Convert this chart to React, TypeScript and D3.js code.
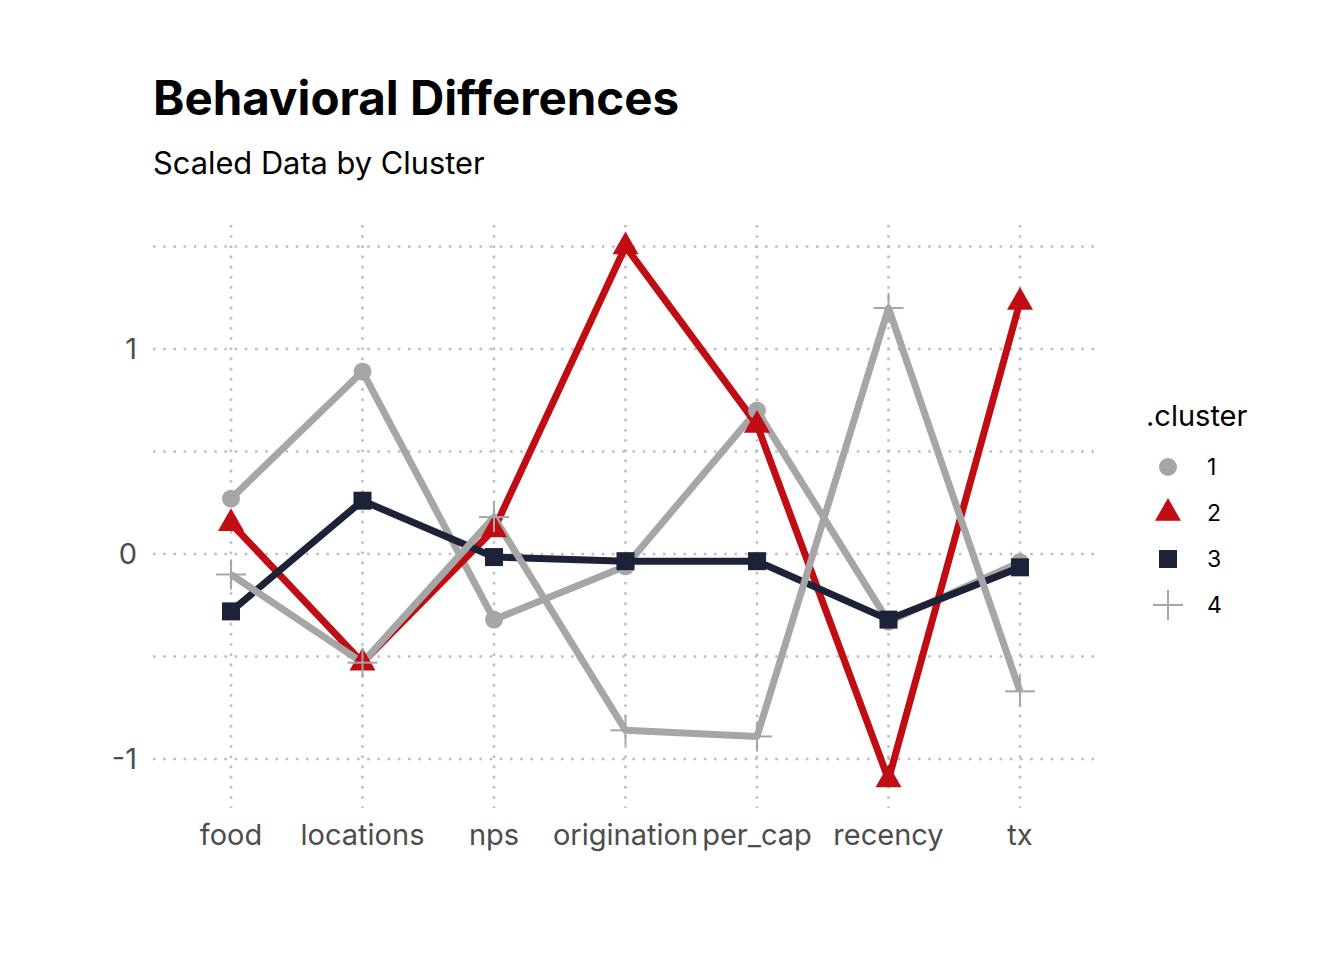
import React from "react";
import * as d3 from "d3";

const categories = ["food", "locations", "nps", "origination", "per_cap", "recency", "tx"];
const clusters = ["1", "2", "3", "4"];
const cluster1 = [0.27, 0.89, -0.32, -0.06, 0.7, -0.33, -0.04];
const cluster2 = [0.15, -0.53, 0.12, 1.5, 0.63, -1.1, 1.23];
const cluster3 = [-0.28, 0.26, -0.015, -0.035, -0.035, -0.32, -0.065];
const cluster4 = [-0.1, -0.53, 0.18, -0.86, -0.89, 1.2, -0.67];
const seriesValues = [cluster1, cluster2, cluster3, cluster4];
const yTicks = [-1, 0, 1];
const yGrid = [-1, -0.5, 0, 0.5, 1, 1.5];

const colors = ["#A6A6A6", "#C00D13", "#1C2339", "#A6A6A6"];
const FONT = "Inter, 'Noto Sans', sans-serif";

function Marker({ kind, x, y, color }: { kind: number; x: number; y: number; color: string }) {
  if (kind === 0) return <circle cx={x} cy={y} r={9} fill={color} />;
  if (kind === 1) {
    const s = 13;
    return (
      <path
        d={`M${x},${y - s * 1.15} L${x + s},${y + s * 0.6} L${x - s},${y + s * 0.6} Z`}
        fill={color}
      />
    );
  }
  if (kind === 2) return <rect x={x - 9} y={y - 9} width={18} height={18} fill={color} />;
  const h = 15;
  return (
    <g stroke={color} strokeWidth={2}>
      <line x1={x - h} x2={x + h} y1={y} y2={y} />
      <line x1={x} x2={x} y1={y - h} y2={y + h} />
    </g>
  );
}

export default function App() {
  const W = 1344;
  const H = 960;
  const left = 153;
  const right = 1100;
  const top = 225;
  const bottom = 808;

  const x = d3.scalePoint<string>().domain(categories).range([231, 1020]);
  const y = d3.scaleLinear().domain([-1, 1]).range([759, 349]);

  const line = d3
    .line<number>()
    .x((_, i) => x(categories[i]) as number)
    .y((d) => y(d));

  return (
    <svg
      width={W}
      height={H}
      style={{ position: "absolute", left: 0, top: 0, background: "#fff" }}
      fontFamily={FONT}
    >
      <rect width={W} height={H} fill="#fff" />
      <text x={153} y={115} fontSize={47.5} fontWeight={700} fill="#000">
        Behavioral Differences
      </text>
      <text x={153} y={174} fontSize={30.8} fill="#000">
        Scaled Data by Cluster
      </text>

      {/* grid */}
      <g stroke="#BEBEBE" strokeWidth={2.6} strokeDasharray="2.6 7.6" strokeLinecap="butt">
        {yGrid.map((v) => (
          <line key={"h" + v} x1={left} x2={right} y1={y(v)} y2={y(v)} />
        ))}
        {categories.map((c) => (
          <line key={"v" + c} x1={x(c)} x2={x(c)} y1={top} y2={bottom} />
        ))}
      </g>

      {/* y axis labels */}
      {yTicks.map((v) => (
        <text
          key={"yt" + v}
          x={137}
          y={y(v)}
          dy="0.36em"
          textAnchor="end"
          fontSize={29}
          fill="#4D4D4D"
        >
          {v === -1 ? "-1" : String(v)}
        </text>
      ))}
      {/* x axis labels */}
      {categories.map((c) => (
        <text key={"xt" + c} x={x(c)} y={845} textAnchor="middle" fontSize={29} fill="#4D4D4D">
          {c}
        </text>
      ))}

      {/* lines */}
      {seriesValues.map((vals, i) => (
        <path
          key={"l" + i}
          d={line(vals) as string}
          fill="none"
          stroke={colors[i]}
          strokeWidth={7}
          strokeLinejoin="round"
        />
      ))}
      {/* points */}
      {seriesValues.map((vals, i) => (
        <g key={"p" + i}>
          {vals.map((v, j) => (
            <Marker key={j} kind={i} x={x(categories[j]) as number} y={y(v)} color={colors[i]} />
          ))}
        </g>
      ))}

      {/* legend */}
      <text x={1146} y={426} fontSize={29} fill="#000">
        .cluster
      </text>
      {clusters.map((c, i) => {
        const ly = 467 + i * 46;
        return (
          <g key={"lg" + c}>
            <Marker kind={i} x={1168} y={ly} color={colors[i]} />
            <text x={1207} y={ly} dy="0.36em" fontSize={23} fill="#000">
              {c}
            </text>
          </g>
        );
      })}
    </svg>
  );
}
